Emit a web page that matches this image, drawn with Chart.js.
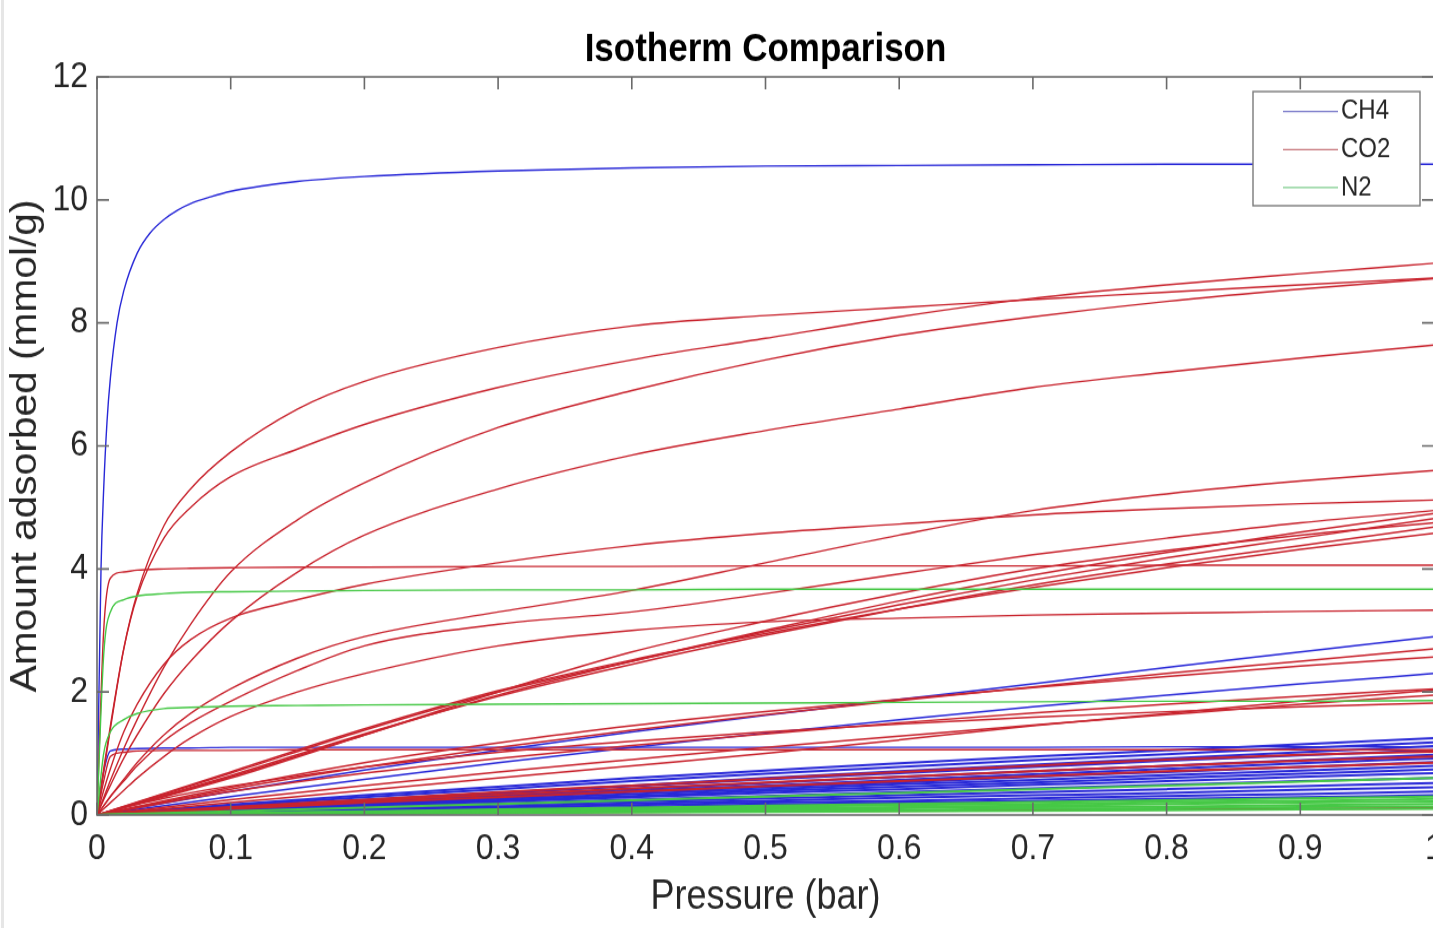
<!DOCTYPE html>
<html>
<head>
<meta charset="utf-8">
<title>Isotherm Comparison</title>
<script src="https://cdn.jsdelivr.net/npm/chart.js@4.4.1/dist/chart.umd.min.js"></script>
<style>
  html, body { margin: 0; padding: 0; background: #fff; overflow: hidden; }
  #wrap { position: relative; width: 1433px; height: 928px; overflow: hidden; }
  #isoChart { position: absolute; left: 0; top: 0; }
  #edge { position: absolute; left: 1px; top: 0; width: 3px; height: 928px; background: #e6e6e6; }
</style>
</head>
<body>
<div id="wrap">
  <!-- canvas is drawn 821px high and stretched to 928px, like the reference -->
  <canvas id="isoChart" width="1531" height="821" style="width:1531px;height:928px"></canvas>
  <div id="edge"></div>
</div>
<script>
// Achsen / Beschriftung
const xTickLabels = ['0', '0.1', '0.2', '0.3', '0.4', '0.5', '0.6', '0.7', '0.8', '0.9', '1'];
const yTickLabels = ['0', '2', '4', '6', '8', '10', '12'];
const gasNames = ['CH4', 'CO2', 'N2'];
const gasColors = ['rgb(40,40,215)', 'rgb(200,35,45)', 'rgb(70,200,70)'];
const legendColors = ['rgb(120,120,200)', 'rgb(200,120,125)', 'rgb(125,205,140)'];

// Druckwerte (bar)
const pKnee = [0, 0.003, 0.005, 0.0075, 0.01, 0.015, 0.02, 0.03, 0.04, 0.05, 0.06, 0.07, 0.085, 0.1, 0.125, 0.15, 0.2, 0.3, 0.4, 0.5, 0.6, 0.7, 0.8, 0.9, 1.0];
const pFine = [0, 0.005, 0.01, 0.02, 0.03, 0.05, 0.07, 0.1, 0.15, 0.2, 0.3, 0.4, 0.5, 0.6, 0.7, 0.8, 0.9, 1.0];
const pCoarse = [0, 0.1, 0.2, 0.3, 0.4, 0.5, 0.6, 0.7, 0.8, 0.9, 1.0];

// CH4, grosse Isotherme auf pKnee
const ch4Knee = [
  [0, 4.0, 5.3, 6.4, 7.1, 8.0, 8.52, 9.13, 9.47, 9.68, 9.83, 9.94, 10.05, 10.14, 10.23, 10.3, 10.38, 10.47, 10.52, 10.55, 10.56, 10.57, 10.58, 10.58, 10.58]
];
// CH4, Werte auf pFine
const ch4Fine = [
  [0, 0.7, 1.04, 1.07, 1.08, 1.09, 1.09, 1.1, 1.1, 1.1, 1.1, 1.1, 1.1, 1.1, 1.1, 1.11, 1.11, 1.11]
];
// CH4, Werte auf pCoarse
const ch4Coarse = [
  [0, 0.38, 0.73, 1.05, 1.35, 1.62, 1.88, 2.13, 2.4, 2.65, 2.9],
  [0, 0.3, 0.58, 0.85, 1.1, 1.33, 1.55, 1.76, 1.95, 2.13, 2.3],
  [0, 0.17, 0.32, 0.46, 0.6, 0.72, 0.84, 0.95, 1.05, 1.15, 1.25],
  [0, 0.15, 0.29, 0.42, 0.55, 0.67, 0.78, 0.89, 0.99, 1.09, 1.18],
  [0, 0.12, 0.24, 0.36, 0.48, 0.6, 0.71, 0.82, 0.92, 1.02, 1.12],
  [0, 0.13, 0.25, 0.36, 0.47, 0.58, 0.68, 0.78, 0.88, 0.97, 1.05],
  [0, 0.11, 0.22, 0.32, 0.42, 0.52, 0.62, 0.71, 0.8, 0.89, 0.98],
  [0, 0.1, 0.2, 0.3, 0.39, 0.48, 0.57, 0.66, 0.75, 0.84, 0.92],
  [0, 0.1, 0.19, 0.28, 0.37, 0.45, 0.53, 0.62, 0.7, 0.78, 0.86],
  [0, 0.09, 0.17, 0.26, 0.34, 0.42, 0.5, 0.57, 0.65, 0.72, 0.8],
  [0, 0.08, 0.16, 0.24, 0.31, 0.39, 0.46, 0.53, 0.6, 0.67, 0.74],
  [0, 0.08, 0.15, 0.22, 0.29, 0.36, 0.42, 0.49, 0.55, 0.62, 0.68],
  [0, 0.07, 0.13, 0.19, 0.25, 0.31, 0.37, 0.43, 0.49, 0.55, 0.6],
  [0, 0.06, 0.11, 0.17, 0.22, 0.27, 0.32, 0.37, 0.42, 0.47, 0.52],
  [0, 0.05, 0.1, 0.14, 0.19, 0.23, 0.28, 0.32, 0.36, 0.41, 0.45],
  [0, 0.04, 0.08, 0.12, 0.16, 0.2, 0.23, 0.27, 0.31, 0.34, 0.38],
  [0, 0.04, 0.07, 0.1, 0.13, 0.17, 0.2, 0.23, 0.26, 0.29, 0.32]
];

// CO2, Werte auf pFine
const co2Fine = [
  [0, 0.7, 1.4, 2.7, 3.6, 4.7, 5.3, 5.9, 6.6, 7.05, 7.6, 7.95, 8.12, 8.25, 8.38, 8.5, 8.62, 8.73],
  [0, 0.75, 1.45, 2.7, 3.55, 4.5, 5.0, 5.5, 5.95, 6.35, 6.95, 7.4, 7.75, 8.1, 8.4, 8.62, 8.8, 8.97],
  [0, 0.28, 0.56, 1.08, 1.55, 2.4, 3.1, 3.95, 4.8, 5.4, 6.3, 6.9, 7.4, 7.8, 8.1, 8.35, 8.55, 8.72],
  [0, 0.25, 0.48, 0.92, 1.3, 1.97, 2.5, 3.15, 3.95, 4.55, 5.3, 5.85, 6.25, 6.6, 6.95, 7.2, 7.43, 7.64],
  [0, 0.4, 0.75, 1.35, 1.8, 2.45, 2.85, 3.2, 3.5, 3.75, 4.1, 4.38, 4.58, 4.73, 4.88, 4.98, 5.06, 5.12],
  [0, 3.0, 3.85, 3.95, 3.98, 4.0, 4.01, 4.02, 4.03, 4.03, 4.04, 4.04, 4.05, 4.05, 4.05, 4.06, 4.06, 4.06],
  [0, 0.1, 0.2, 0.4, 0.6, 0.95, 1.25, 1.6, 2.0, 2.3, 2.75, 3.0, 3.14, 3.2, 3.25, 3.28, 3.31, 3.33],
  [0, 0.15, 0.3, 0.58, 0.85, 1.3, 1.65, 2.05, 2.55, 2.9, 3.3, 3.65, 4.1, 4.55, 4.95, 5.22, 5.43, 5.6],
  [0, 0.15, 0.3, 0.55, 0.8, 1.2, 1.5, 1.85, 2.35, 2.75, 3.1, 3.3, 3.6, 3.92, 4.23, 4.5, 4.75, 4.95],
  [0, 0.55, 0.95, 1.02, 1.04, 1.05, 1.05, 1.05, 1.06, 1.06, 1.06, 1.06, 1.06, 1.06, 1.06, 1.06, 1.06, 1.06],
  [0, 0.03, 0.06, 0.12, 0.17, 0.27, 0.36, 0.47, 0.63, 0.78, 1.02, 1.2, 1.35, 1.48, 1.59, 1.68, 1.76, 1.82]
];
// CO2, Werte auf pCoarse
const co2Coarse = [
  [0, 0.6, 1.3, 2.0, 2.65, 3.15, 3.6, 4.0, 4.3, 4.55, 4.75],
  [0, 0.68, 1.38, 2.0, 2.5, 2.98, 3.42, 3.82, 4.18, 4.5, 4.82],
  [0, 0.64, 1.32, 1.93, 2.45, 2.92, 3.35, 3.74, 4.08, 4.38, 4.68],
  [0, 0.7, 1.4, 2.02, 2.52, 2.95, 3.35, 3.7, 4.02, 4.32, 4.58],
  [0, 0.62, 1.3, 1.95, 2.5, 3.0, 3.48, 3.9, 4.27, 4.6, 4.9],
  [0, 0.42, 0.78, 1.1, 1.38, 1.63, 1.86, 2.08, 2.3, 2.5, 2.7],
  [0, 0.45, 0.85, 1.17, 1.45, 1.68, 1.88, 2.07, 2.25, 2.42, 2.57],
  [0, 0.38, 0.68, 0.92, 1.13, 1.32, 1.5, 1.66, 1.8, 1.93, 2.05],
  [0, 0.25, 0.48, 0.7, 0.9, 1.1, 1.28, 1.46, 1.63, 1.8, 1.95],
  [0, 0.2, 0.4, 0.6, 0.8, 1.0, 1.22, 1.45, 1.65, 1.85, 2.03],
  [0, 0.13, 0.25, 0.37, 0.48, 0.59, 0.7, 0.8, 0.9, 0.98, 1.03],
  [0, 0.12, 0.23, 0.33, 0.43, 0.53, 0.62, 0.71, 0.8, 0.88, 0.95],
  [0, 0.1, 0.2, 0.29, 0.38, 0.47, 0.55, 0.63, 0.71, 0.78, 0.85],
  [0, 0.02, 0.03, 0.04, 0.05, 0.06, 0.07, 0.08, 0.09, 0.1, 0.11]
];

// N2, Werte auf pFine
const n2Fine = [
  [0, 2.6, 3.3, 3.5, 3.56, 3.6, 3.62, 3.63, 3.64, 3.65, 3.66, 3.66, 3.67, 3.67, 3.67, 3.67, 3.67, 3.67],
  [0, 1.0, 1.35, 1.55, 1.65, 1.73, 1.75, 1.77, 1.78, 1.79, 1.8, 1.81, 1.82, 1.83, 1.84, 1.85, 1.85, 1.86]
];
// N2, Werte auf pCoarse
const n2Coarse = [
  [0, 0.06, 0.12, 0.18, 0.24, 0.3, 0.36, 0.42, 0.48, 0.54, 0.6],
  [0, 0.03, 0.06, 0.09, 0.12, 0.15, 0.18, 0.21, 0.24, 0.27, 0.3],
  [0, 0.03, 0.05, 0.08, 0.1, 0.13, 0.16, 0.18, 0.21, 0.23, 0.26],
  [0, 0.02, 0.04, 0.07, 0.09, 0.11, 0.13, 0.15, 0.18, 0.2, 0.22],
  [0, 0.02, 0.04, 0.05, 0.07, 0.09, 0.11, 0.13, 0.14, 0.16, 0.18],
  [0, 0.01, 0.03, 0.04, 0.06, 0.07, 0.08, 0.1, 0.11, 0.13, 0.14],
  [0, 0.01, 0.02, 0.03, 0.04, 0.05, 0.06, 0.07, 0.08, 0.09, 0.1]
];

const fontFamily = '"Liberation Sans", Arial, Helvetica, sans-serif';
const textColor = '#262626';
const axisColor = '#6a6a6a';

function linie(gas, druck, werte, dicke) {
  return {
    label: gasNames[gas],
    data: werte.map((w, i) => ({ x: druck[i], y: w })),
    borderColor: gasColors[gas],
    borderWidth: dicke,
    pointRadius: 0,
    fill: false,
    cubicInterpolationMode: 'monotone',
    order: 3 - gas // N2 zuletzt (oben) gezeichnet
  };
}

const datasets = [];
ch4Knee.forEach(w => datasets.push(linie(0, pKnee, w, 1.4)));
[[ch4Fine, ch4Coarse], [co2Fine, co2Coarse], [n2Fine, n2Coarse]].forEach((g, gas) => {
  g[0].forEach(w => datasets.push(linie(gas, pFine, w, 1.4)));
  // die flachen Linien unten sind im Bild dichter / kraeftiger
  g[1].forEach(w => datasets.push(linie(gas, pCoarse, w, w[10] < 1.3 ? 2 : 1.5)));
});

// Rahmen mit Ticks nach innen (wie MATLAB)
const rahmenPlugin = {
  id: 'rahmen',
  afterDatasetsDraw(chart) {
    const { ctx, chartArea: a, scales: { x, y } } = chart;
    ctx.save();
    ctx.strokeStyle = axisColor;
    ctx.lineWidth = 1.6;
    ctx.strokeRect(a.left, a.top, a.right - a.left, a.bottom - a.top);
    ctx.beginPath();
    x.ticks.forEach(t => {
      const px = x.getPixelForValue(t.value);
      ctx.moveTo(px, a.bottom); ctx.lineTo(px, a.bottom - 11);
      ctx.moveTo(px, a.top); ctx.lineTo(px, a.top + 11);
    });
    y.ticks.forEach(t => {
      const py = y.getPixelForValue(t.value);
      ctx.moveTo(a.left, py); ctx.lineTo(a.left + 12, py);
      ctx.moveTo(a.right, py); ctx.lineTo(a.right - 12, py);
    });
    ctx.stroke();
    ctx.restore();
  }
};

// Legende als Kasten oben rechts im Diagramm
const legendePlugin = {
  id: 'legende',
  afterDraw(chart) {
    const { ctx, chartArea: a } = chart;
    const right = a.right - 14, left = right - 167;
    const top = a.top + 13, h = 101;
    ctx.save();
    ctx.fillStyle = '#fff';
    ctx.fillRect(left, top, right - left, h);
    ctx.strokeStyle = '#7a7a7a';
    ctx.lineWidth = 1.4;
    ctx.strokeRect(left, top, right - left, h);
    ctx.font = '24px ' + fontFamily;
    ctx.textBaseline = 'middle';
    ctx.textAlign = 'left';
    gasNames.forEach((name, i) => {
      const yy = top + 17.7 + i * 33.6;
      ctx.strokeStyle = legendColors[i];
      ctx.lineWidth = 1.3;
      ctx.beginPath();
      ctx.moveTo(left + 30, yy);
      ctx.lineTo(left + 85, yy);
      ctx.stroke();
      ctx.fillStyle = textColor;
      ctx.fillText(name, left + 88, yy);
    });
    ctx.restore();
  }
};

new Chart(document.getElementById('isoChart'), {
  type: 'line',
  data: { datasets: datasets },
  options: {
    responsive: false,
    animation: false,
    devicePixelRatio: 1,
    events: [],
    layout: { padding: 0 },
    plugins: {
      legend: { display: false },
      tooltip: { enabled: false },
      title: {
        display: true,
        text: 'Isotherm Comparison',
        color: '#000',
        font: { family: fontFamily, size: 35, weight: 'bold' },
        padding: { top: 23, bottom: 3 }
      }
    },
    scales: {
      x: {
        type: 'linear',
        min: 0,
        max: 1,
        grid: { display: false, drawTicks: false },
        border: { display: false },
        ticks: {
          stepSize: 0.1,
          padding: 11,
          maxRotation: 0,
          autoSkip: false,
          color: textColor,
          font: { family: fontFamily, size: 32 },
          callback: v => xTickLabels[Math.round(v * 10)]
        },
        title: {
          display: true,
          text: 'Pressure (bar)',
          color: textColor,
          font: { family: fontFamily, size: 36 },
          padding: { top: 0, bottom: 5 }
        },
        afterFit: s => { s.height = 100; }
      },
      y: {
        type: 'linear',
        min: 0,
        max: 12,
        grid: { display: false, drawTicks: false },
        border: { display: false },
        ticks: {
          stepSize: 2,
          padding: 9,
          color: textColor,
          font: { family: fontFamily, size: 32 },
          callback: v => yTickLabels[Math.round(v / 2)]
        },
        title: {
          display: true,
          text: 'Amount adsorbed (mmol/g)',
          color: textColor,
          font: { family: fontFamily, size: 36 },
          padding: { top: 4, bottom: 0 }
        },
        afterFit: s => { s.width = 97; }
      },
      // leere rechte Achse: haelt rechts Platz frei, damit der Titel ueber der Achsenflaeche zentriert ist
      yRechts: {
        type: 'linear',
        position: 'right',
        min: 0,
        max: 12,
        grid: { display: false, drawTicks: false },
        border: { display: false },
        ticks: { display: false },
        afterFit: s => { s.width = 97; }
      }
    }
  },
  plugins: [rahmenPlugin, legendePlugin]
});
</script>
</body>
</html>
